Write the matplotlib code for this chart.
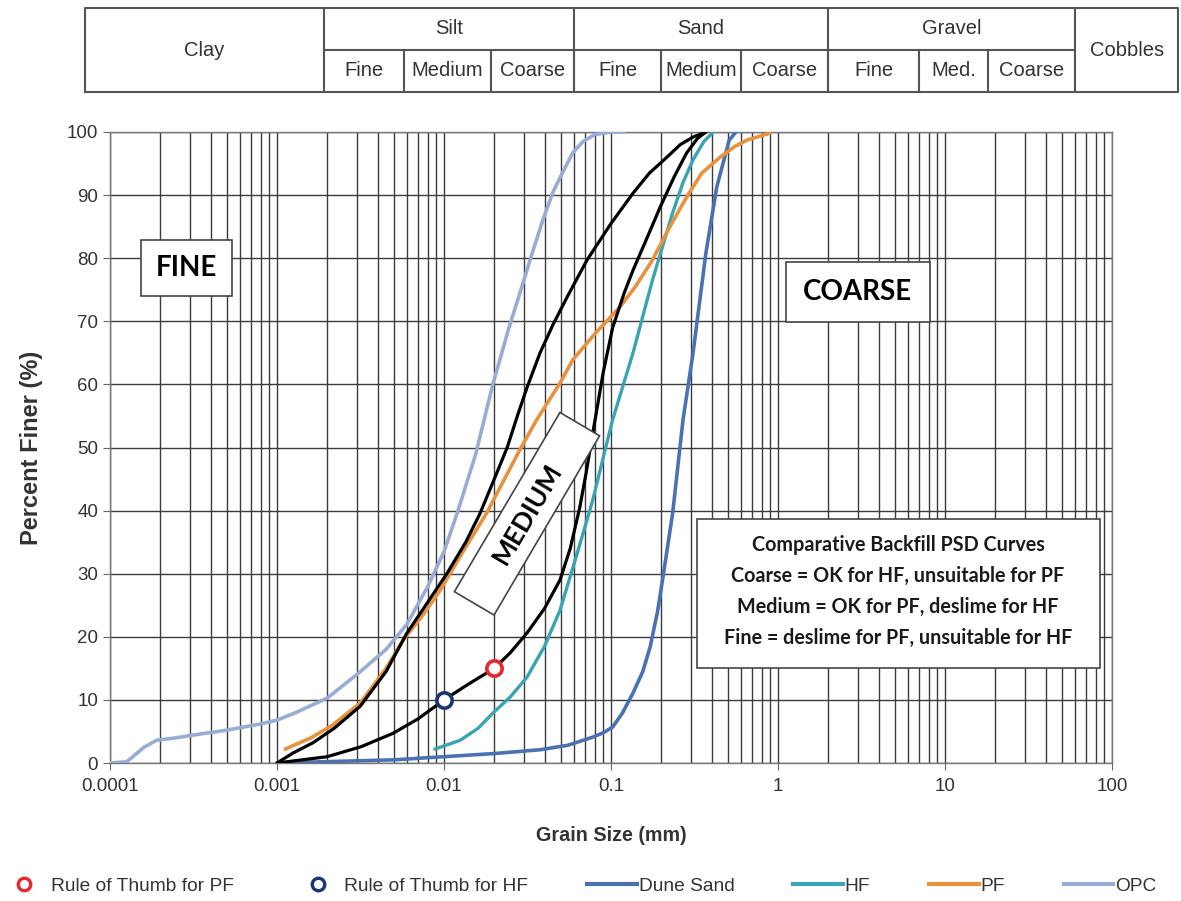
import numpy as np
import matplotlib
matplotlib.use("Agg")
import matplotlib.pyplot as plt
from matplotlib.ticker import LogLocator, NullFormatter, FixedLocator, FixedFormatter
from matplotlib.lines import Line2D
from matplotlib.patches import Rectangle
from matplotlib.transforms import Affine2D, ScaledTranslation

# ---------------- data ----------------
opc_x = [0.0001, 0.000126, 0.00016, 0.00019, 0.00025, 0.00031, 0.0005, 0.0008, 0.001, 0.0013,
         0.002, 0.003, 0.0045, 0.006, 0.008, 0.01, 0.012, 0.0155, 0.0196, 0.0245, 0.0285, 0.033,
         0.039, 0.045, 0.05, 0.059, 0.068, 0.08, 0.1, 0.12]
opc_y = [0, 0.2, 2.5, 3.6, 4.0, 4.4, 5.2, 6.2, 6.8, 8.0,
         10.3, 14, 18, 22, 28, 33.5, 39.6, 49, 60, 69, 74.5, 80,
         86, 90.5, 93, 96.7, 98.5, 99.6, 100, 100]

pf_x = [0.00112, 0.0016, 0.00215, 0.00315, 0.0045, 0.0057, 0.0075, 0.0095, 0.013, 0.018,
        0.0284, 0.0359, 0.0495, 0.059, 0.08, 0.1134, 0.14, 0.177, 0.22, 0.284,
        0.35, 0.45, 0.55, 0.65, 0.89]
pf_y = [2.2, 4.0, 6.0, 9.5, 15, 19.5, 23.5, 27.4, 33.5, 39.6,
        49.6, 54.4, 60.2, 63.9, 68, 72.3, 75.5, 79.7, 84.5, 89.7,
        93.5, 96, 97.7, 98.7, 99.8]

hf_x = [0.0088, 0.0125, 0.016, 0.0196, 0.025, 0.0314, 0.04, 0.0495, 0.06, 0.07,
        0.0778, 0.093, 0.1023, 0.1355, 0.177, 0.234, 0.27, 0.31, 0.36, 0.41]
hf_y = [2.2, 3.6, 5.5, 7.9, 10.5, 13.6, 18.5, 24.2, 31.5, 37.5,
        41.7, 50, 54.4, 65, 76.5, 87.2, 92, 95.6, 98.5, 100]

dune_x = [0.001, 0.005, 0.01, 0.02, 0.0376, 0.055, 0.0778, 0.09, 0.1023, 0.117, 0.1355,
          0.155, 0.1716, 0.19, 0.2035, 0.234, 0.27, 0.31, 0.37, 0.43, 0.51, 0.56]
dune_y = [0, 0.5, 1.0, 1.5, 2.1, 2.8, 4.1, 4.8, 5.7, 7.9, 11.1,
          14.5, 18.4, 24, 29, 39.6, 54.4, 65, 80.8, 91.3, 98.7, 100]

env_fine_x = [0.001, 0.00125, 0.00164, 0.0022, 0.00315, 0.0045, 0.006, 0.008, 0.0104, 0.0135,
              0.0164, 0.02, 0.0239, 0.0275, 0.0314, 0.0376, 0.045, 0.055, 0.0718, 0.1,
              0.1355, 0.17, 0.216, 0.26, 0.31, 0.37]
env_fine_y = [0, 1.6, 3.2, 5.5, 9.0, 14.5, 20.6, 25.5, 30, 35,
              39.5, 45, 50, 55, 59.5, 65, 69.5, 74, 79.7, 85.5,
              90.3, 93.5, 96, 98, 99.2, 100]

env_coarse_x = [0.001, 0.002, 0.0032, 0.00495, 0.007, 0.01, 0.014, 0.02, 0.025, 0.0314,
                0.04, 0.0495, 0.057, 0.065, 0.071, 0.0778, 0.09, 0.1023, 0.12, 0.1355,
                0.16, 0.197, 0.24, 0.284, 0.33, 0.37]
env_coarse_y = [0, 1, 2.6, 4.7, 7, 10, 12.5, 15, 17.5, 20.6,
                24.5, 29, 34, 40.5, 46, 52.3, 62, 69, 74.5, 78.1,
                82.5, 88.1, 93, 96.7, 99, 100]

rot_pf = (0.02, 15)
rot_hf = (0.01, 10)

x_ticks = [0.0001, 0.001, 0.01, 0.1, 1, 10, 100]
x_ticklabels = ["0.0001", "0.001", "0.01", "0.1", "1", "10", "100"]
y_ticks = list(range(0, 101, 10))

# header table (soil classes)
main_classes = ["Clay", "Silt", "Sand", "Gravel", "Cobbles"]
main_bounds = [0.00007, 0.0019, 0.06, 2.0, 60, 250]
sub_labels = ["Fine", "Medium", "Coarse", "Fine", "Medium", "Coarse", "Fine", "Med.", "Coarse"]
sub_bounds = [0.0019, 0.0058, 0.019, 0.06, 0.2, 0.6, 2.0, 7.0, 18.0, 60]

notes = ["Comparative Backfill PSD Curves",
         "Coarse = OK for HF, unsuitable for PF",
         "Medium = OK for PF, deslime for HF",
         "Fine = deslime for PF, unsuitable for HF"]

# ---------------- style ----------------
C_OPC = "#98acd6"
C_PF = "#e8923e"
C_HF = "#3aa3b4"
C_DUNE = "#4a72b3"
C_RED = "#e8262d"
C_NAVY = "#1b3474"
GRID = "#3c3c3c"
TXT = "#333333"

plt.rcParams['font.family'] = ['Liberation Sans', 'DejaVu Sans']
W, H = 1181, 901
fig = plt.figure(figsize=(W / 100, H / 100), dpi=100)

ax = fig.add_axes([110 / W, 138 / H, 1002 / W, 631 / H])
ax.set_xscale('log')
ax.set_xlim(1e-4, 100)
ax.set_ylim(0, 100)
ax.xaxis.set_major_locator(FixedLocator(x_ticks))
ax.xaxis.set_major_formatter(FixedFormatter(x_ticklabels))
ax.xaxis.set_minor_locator(LogLocator(base=10, subs=np.arange(2, 10), numticks=50))
ax.xaxis.set_minor_formatter(NullFormatter())
ax.set_yticks(y_ticks)
ax.grid(True, which='both', axis='x', color=GRID, lw=1.0)
ax.grid(True, which='major', axis='y', color=GRID, lw=1.0)
ax.set_axisbelow(True)
ax.tick_params(axis='both', which='major', labelsize=13.5, labelcolor=TXT, color='#666666',
               length=5, direction='out')
ax.tick_params(axis='x', which='minor', length=0)
ax.tick_params(axis='x', pad=6)
for s in ax.spines.values():
    s.set_color('#777777')
    s.set_linewidth(1.0)

ax.set_xlabel("Grain Size (mm)", fontsize=14.2, fontweight='bold', color=TXT, labelpad=22)
ax.set_ylabel("Percent Finer (%)", fontsize=17, fontweight='bold', color=TXT, labelpad=17)

kw = dict(zorder=3, solid_capstyle='round', solid_joinstyle='round')
ax.plot(opc_x, opc_y, color=C_OPC, lw=2.6, **kw)
ax.plot(dune_x, dune_y, color=C_DUNE, lw=2.6, **kw)
ax.plot(hf_x, hf_y, color=C_HF, lw=2.4, **kw)
ax.plot(pf_x, pf_y, color=C_PF, lw=2.6, **kw)
kw['zorder'] = 4
ax.plot(env_fine_x, env_fine_y, color='black', lw=2.3, **kw)
ax.plot(env_coarse_x, env_coarse_y, color='black', lw=2.3, **kw)
ax.plot([rot_pf[0]], [rot_pf[1]], 'o', ms=11, mfc='white', mec=C_RED, mew=2.6, zorder=5)
ax.plot([rot_hf[0]], [rot_hf[1]], 'o', ms=11, mfc='white', mec=C_NAVY, mew=2.6, zorder=5)

box_font = ['Lato', 'DejaVu Sans']
# FINE / COARSE labels
ax.text(10 ** ((186.5 - 110) / 167 - 4), (763 - 268) / 6.31, "FINE", fontsize=20, fontweight='bold',
        family=box_font, ha='center', va='center', zorder=6,
        bbox=dict(boxstyle='square,pad=0.55', fc='white', ec='#444444', lw=1.2))
ax.text(10 ** ((858 - 110) / 167 - 4), (763 - 292) / 6.31, "COARSE", fontsize=20, fontweight='bold',
        family=box_font, ha='center', va='center', zorder=6,
        bbox=dict(boxstyle='square,pad=0.62', fc='white', ec='#444444', lw=1.2))

# MEDIUM rotated box
mx, my = 0.0314, 39.5
rect = Rectangle((-104, -23), 208, 46, fc='white', ec='#444444', lw=1.2, zorder=6,
                 transform=Affine2D().rotate_deg(59.5) + ScaledTranslation(mx, my, ax.transData))
ax.add_patch(rect)
ax.text(mx, my, "MEDIUM", fontsize=19, fontweight='bold', family=box_font, rotation=59.5,
        rotation_mode='anchor', ha='center', va='center', zorder=7)

# notes box
nx0, nx1 = 10 ** ((697 - 110) / 167 - 4), 10 ** ((1100 - 110) / 167 - 4)
ax.add_patch(Rectangle((nx0, (763 - 668) / 6.31), nx1 - nx0, (668 - 519) / 6.31,
                       fc='white', ec='#444444', lw=1.2, zorder=6))
ncx = 10 ** ((898 - 110) / 167 - 4)
for i, line in enumerate(notes):
    ax.text(ncx, (763 - (545 + 31 * i)) / 6.31, line, fontsize=14.2, fontweight='bold',
            family=box_font, ha='center', va='center', zorder=7, color='#1a1a1a')

# ---------------- header table ----------------
hx0 = 10 ** (-4 - 25 / 167)
hx1 = 10 ** (-4 + 1068 / 167)
hax = fig.add_axes([85 / W, 809 / H, 1093 / W, 84 / H])
hax.set_xscale('log')
hax.set_xlim(hx0, hx1)
hax.set_ylim(0, 2)
hax.axis('off')
LC = '#555555'
hax.plot([hx0, hx1, hx1, hx0, hx0], [0, 0, 2, 2, 0], color=LC, lw=1.5, clip_on=False)
for b in main_bounds[1:-1]:
    hax.plot([b, b], [0, 2], color=LC, lw=1.5)
hax.plot([main_bounds[1], main_bounds[4]], [1, 1], color=LC, lw=1.5)
for b in sub_bounds[1:-1]:
    hax.plot([b, b], [0, 1], color=LC, lw=1.5)
for i, name in enumerate(main_classes):
    c = np.sqrt(main_bounds[i] * main_bounds[i + 1])
    yy = 1.5 if name in ("Silt", "Sand", "Gravel") else 1.0
    hax.text(c, yy, name, fontsize=14.5, color=TXT, ha='center', va='center')
for i, name in enumerate(sub_labels):
    c = np.sqrt(sub_bounds[i] * sub_bounds[i + 1])
    hax.text(c, 0.5, name, fontsize=14.5, color=TXT, ha='center', va='center')

# ---------------- legend ----------------
handles = [
    Line2D([], [], ls='none', marker='o', ms=9, mfc='white', mec=C_RED, mew=2.4),
    Line2D([], [], ls='none', marker='o', ms=9, mfc='white', mec=C_NAVY, mew=2.4),
    Line2D([], [], color=C_DUNE, lw=3),
    Line2D([], [], color=C_HF, lw=3),
    Line2D([], [], color=C_PF, lw=3),
    Line2D([], [], color=C_OPC, lw=3),
]
labels = ["Rule of Thumb for PF", "Rule of Thumb for HF", "Dune Sand", "HF", "PF", "OPC"]
fig.legend(handles, labels, loc='center', bbox_to_anchor=(578 / W, (901 - 886) / H), ncol=6,
           frameon=False, fontsize=13.8, handlelength=2.6, handletextpad=0.1,
           columnspacing=3.05, labelcolor=TXT)

fig.savefig("out.png", dpi=100)
